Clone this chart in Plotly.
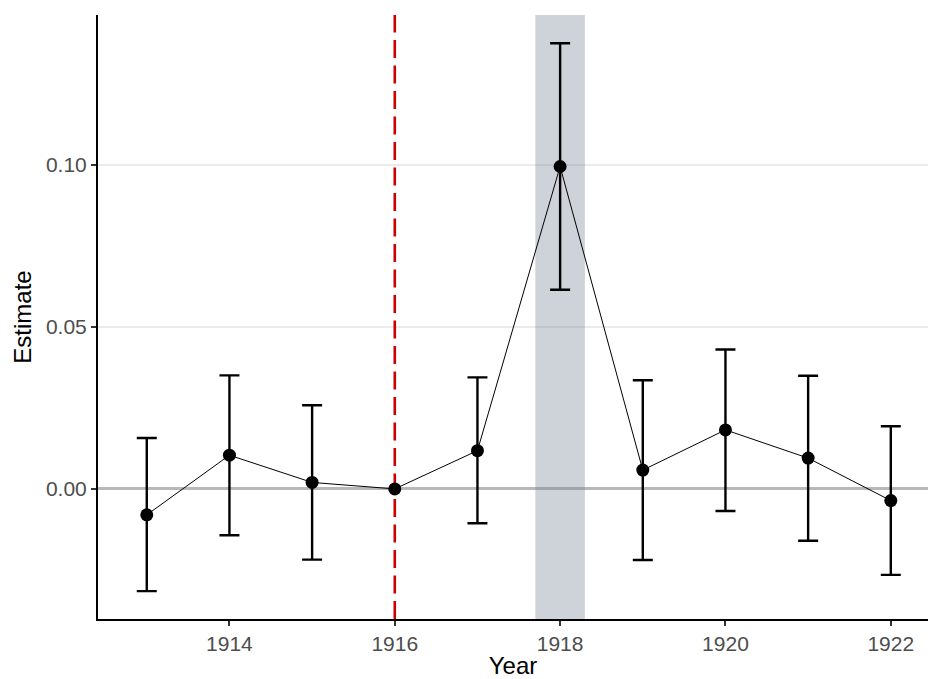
import plotly.graph_objects as go

# Event-study estimates by year with 95% confidence bounds (1916 is the reference year)
years = [1913, 1914, 1915, 1916, 1917, 1918, 1919, 1920, 1921, 1922]
estimate = [-0.0080, 0.0104, 0.0020, 0.0, 0.0118, 0.0994, 0.0058, 0.0182, 0.0095, -0.0036]
ci_low = [-0.0315, -0.0143, -0.0218, None, -0.0106, 0.0614, -0.0219, -0.0068, -0.0160, -0.0265]
ci_high = [0.0157, 0.0350, 0.0258, None, 0.0344, 0.1374, 0.0335, 0.0430, 0.0349, 0.0193]

reference_year = 1916
highlight_year = 1918
highlight_halfwidth = 0.3

x_ticks = [1914, 1916, 1918, 1920, 1922]
y_ticks = [0.00, 0.05, 0.10]
y_tick_text = ["0.00", "0.05", "0.10"]

x_range = [1912.41, 1922.45]
y_range = [-0.0401, 0.1461]

# Only years that have a confidence interval get an error bar
eb_x, eb_y, eb_up, eb_down = [], [], [], []
for yr, est, lo, hi in zip(years, estimate, ci_low, ci_high):
    if lo is None or hi is None:
        continue
    eb_x.append(yr)
    eb_y.append(est)
    eb_up.append(hi - est)
    eb_down.append(est - lo)

fig = go.Figure()

# shaded band around the highlighted year (semi-transparent, over grid and zero line)
bx0 = highlight_year - highlight_halfwidth
bx1 = highlight_year + highlight_halfwidth
fig.add_trace(go.Scatter(
    x=[bx0, bx1, bx1, bx0, bx0],
    y=[y_range[0], y_range[0], y_range[1], y_range[1], y_range[0]],
    mode="lines", fill="toself", fillcolor="rgba(112,128,144,0.35)",
    line=dict(width=0), hoverinfo="skip", showlegend=False,
))

# dashed marker for the reference year
fig.add_trace(go.Scatter(
    x=[reference_year, reference_year], y=[y_range[0], y_range[1]],
    mode="lines", line=dict(color="#CD0000", width=2.6, dash="18px,7.5px"),
    hoverinfo="skip", showlegend=False,
))

# thin connecting line
fig.add_trace(go.Scatter(
    x=years, y=estimate, mode="lines",
    line=dict(color="black", width=1),
    hoverinfo="skip", showlegend=False,
))

# confidence intervals
fig.add_trace(go.Scatter(
    x=eb_x, y=eb_y, mode="markers",
    marker=dict(size=1, color="rgba(0,0,0,0)"),
    error_y=dict(type="data", symmetric=False, array=eb_up, arrayminus=eb_down,
                 color="black", thickness=2.4, width=10),
    hoverinfo="skip", showlegend=False,
))

# point estimates
fig.add_trace(go.Scatter(
    x=years, y=estimate, mode="markers",
    marker=dict(size=13, color="black"),
    showlegend=False,
))

tick_font = dict(family="Liberation Sans, Arial, sans-serif", size=21, color="#4d4d4d")
title_font = dict(family="Liberation Sans, Arial, sans-serif", size=24, color="black")

fig.update_layout(
    width=928, height=679,
    margin=dict(l=98, r=0, t=15, b=60),
    paper_bgcolor="white", plot_bgcolor="white",
    xaxis=dict(
        range=x_range,
        tickvals=x_ticks, ticktext=[str(t) for t in x_ticks],
        showgrid=False, zeroline=False,
        showline=True, linecolor="black", linewidth=2,
        ticks="outside", ticklen=5, tickwidth=2, tickcolor="#333333",
        tickfont=tick_font,
        title=dict(text="Year", font=title_font, standoff=2),
    ),
    yaxis=dict(
        range=y_range,
        tickvals=y_ticks, ticktext=y_tick_text,
        showgrid=True, gridcolor="#ebebeb", gridwidth=2,
        zeroline=True, zerolinecolor="#b8b8b8", zerolinewidth=2.6,
        showline=True, linecolor="black", linewidth=2,
        ticks="outside", ticklen=5, tickwidth=2, tickcolor="#333333",
        tickfont=tick_font,
        title=dict(text="Estimate", font=title_font, standoff=8),
    ),
)

fig.write_html("out.html")
